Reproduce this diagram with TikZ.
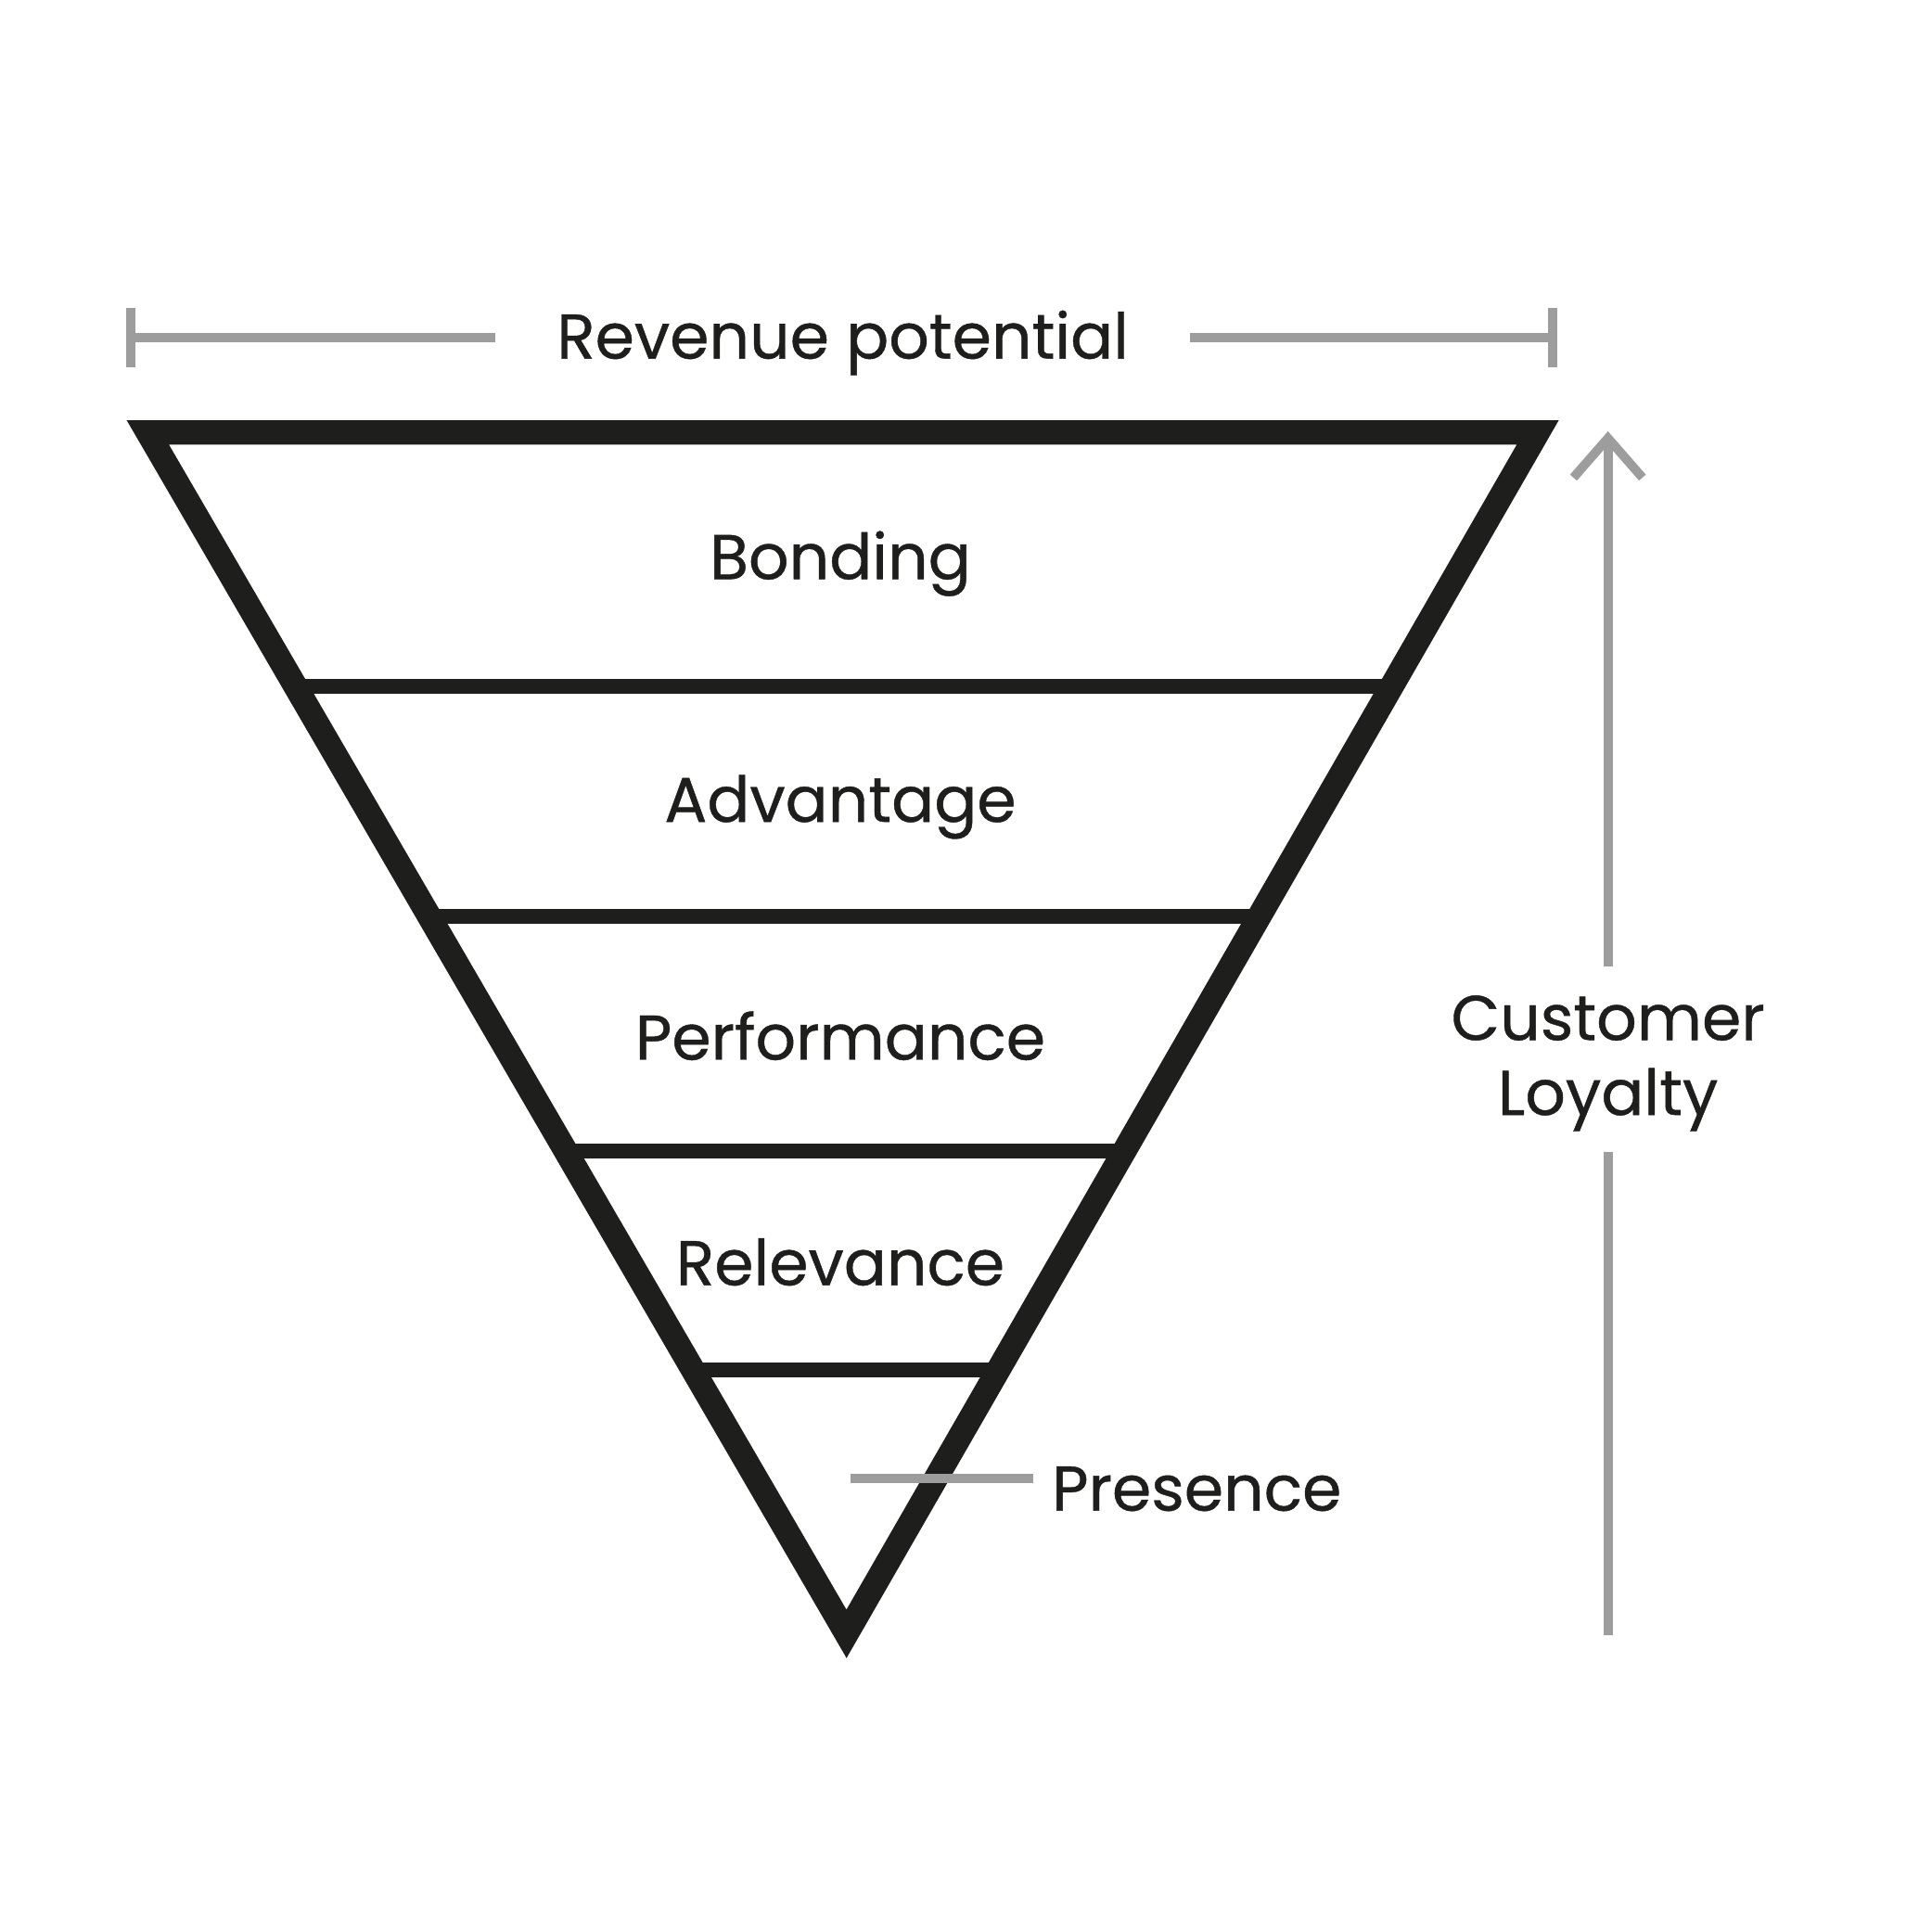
\documentclass[tikz,border=0pt]{standalone}
\usepackage{fontspec}
\setmainfont{Poppins}[FakeBold=0.6]
\usetikzlibrary{calc,arrows.meta}
\definecolor{ink}{HTML}{1E1E1C}
\definecolor{rulegray}{HTML}{9D9D9D}
\begin{document}
\begin{tikzpicture}[x=0.1mm,y=-0.1mm,
    funnel/.style={draw=ink,line width=5.6pt,miter limit=10},
    band/.style={draw=ink,line width=3.4pt},
    guide/.style={draw=rulegray,line width=2.1pt},
    lbl/.style={text=ink,font=\fontsize{14.6}{17.3}\selectfont,inner sep=0pt},
  ]
  \useasboundingbox (0,0) rectangle (1568,1568);
  % funnel outline
  \coordinate (tl) at (120,351);
  \coordinate (tr) at (1248,351);
  \coordinate (tip) at (687,1326);
  \draw[funnel] (tl) -- (tr) -- (tip) -- cycle;
  % bands and their labels
  \foreach \y/\name/\base in {557/Bonding/470,744/Advantage/667,934/Performance/860,1112/Relevance/1043}{
    \draw[band] ($(tl)!{(\y-351)/975}!(tip)$) -- ($(tr)!{(\y-351)/975}!(tip)$);
    \node[lbl,anchor=base] (\name) at (682,\base) {\name};
  };
  \node[lbl,anchor=base west] (pres) at (853,1226) {Presence};
  \coordinate (pin) at (690,1200);
  \draw[guide] (pin) -- (pin -| pres.west) [shorten >=4pt];
  % revenue potential
  \node[lbl,anchor=base] (rev) at (684,291) {Revenue potential};
  \coordinate (rl) at (106,274);
  \coordinate (rr) at (1260,274);
  \draw[guide] (rl) -- (rl -| rev.west) [shorten >=14pt];
  \draw[guide] (rr) -- (rr -| rev.east) [shorten >=14pt];
  \draw[guide] ($(rl)+(0,-24)$) -- ($(rl)+(0,24)$);
  \draw[guide] ($(rr)+(0,-24)$) -- ($(rr)+(0,24)$);
  % customer loyalty
  \node[lbl,align=center] (cl) at (1305,863) {Customer\\Loyalty};
  \coordinate (clb) at (1305,1327);
  \coordinate (clt) at (1305,350);
  \draw[guide] (clb) -- (cl.south) [shorten >=4.5pt];
  \draw[guide,-{Straight Barb[length=3.2mm,width=5.6mm]}] (cl.north) -- (clt) [shorten <=6.5pt];
\end{tikzpicture}
\end{document}
